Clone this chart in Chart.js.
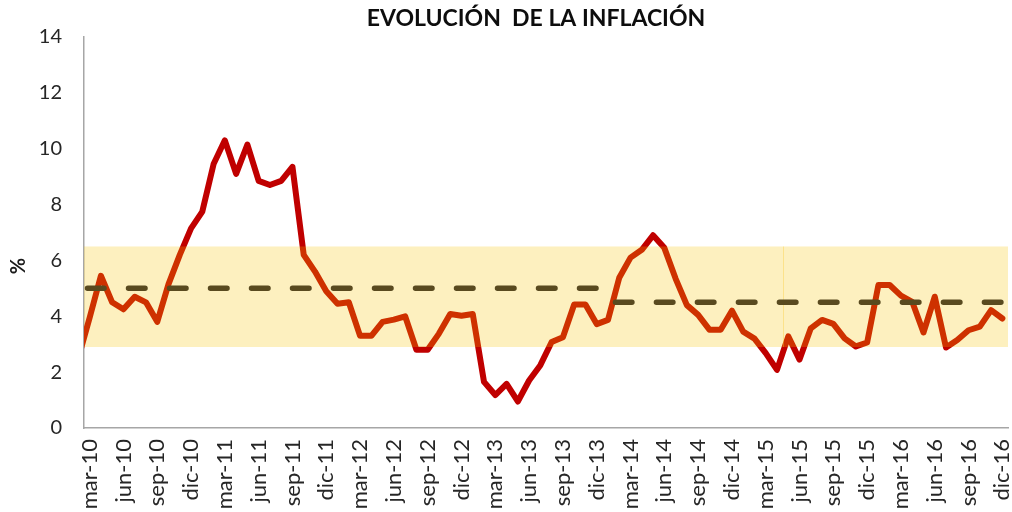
<!DOCTYPE html>
<html>
<head>
<meta charset="utf-8">
<script src="https://cdn.jsdelivr.net/npm/chart.js@4.4.1/dist/chart.umd.min.js"></script>
<style>
  html, body { margin: 0; padding: 0; background: #ffffff; }
  canvas { display: block; }
</style>
</head>
<body>
<canvas id="chart" width="1012" height="512"></canvas>
<script>
// ---------- DATA ----------
const months = [
  'feb-10','mar-10','abr-10','may-10','jun-10','jul-10','ago-10','sep-10','oct-10','nov-10','dic-10',
  'ene-11','feb-11','mar-11','abr-11','may-11','jun-11','jul-11','ago-11','sep-11','oct-11','nov-11','dic-11',
  'ene-12','feb-12','mar-12','abr-12','may-12','jun-12','jul-12','ago-12','sep-12','oct-12','nov-12','dic-12',
  'ene-13','feb-13','mar-13','abr-13','may-13','jun-13','jul-13','ago-13','sep-13','oct-13','nov-13','dic-13',
  'ene-14','feb-14','mar-14','abr-14','may-14','jun-14','jul-14','ago-14','sep-14','oct-14','nov-14','dic-14',
  'ene-15','feb-15','mar-15','abr-15','may-15','jun-15','jul-15','ago-15','sep-15','oct-15','nov-15','dic-15',
  'ene-16','feb-16','mar-16','abr-16','may-16','jun-16','jul-16','ago-16','sep-16','oct-16','nov-16','dic-16'
];

const tickLabels = [
  'mar-10','jun-10','sep-10','dic-10','mar-11','jun-11','sep-11','dic-11',
  'mar-12','jun-12','sep-12','dic-12','mar-13','jun-13','sep-13','dic-13',
  'mar-14','jun-14','sep-14','dic-14','mar-15','jun-15','sep-15','dic-15',
  'mar-16','jun-16','sep-16','dic-16'
];

const firstShownMonth = 'mar-10';

// Inflación interanual (%)
const inflation = [
  2.5, 3.95, 5.45, 4.5, 4.25, 4.7, 4.5, 3.8, 5.15, 6.2, 7.15,
  7.75, 9.45, 10.3, 9.1, 10.15, 8.85, 8.7, 8.85, 9.35, 6.2, 5.6, 4.9,
  4.45, 4.5, 3.3, 3.3, 3.8, 3.88, 4.0, 2.8, 2.8, 3.38, 4.08, 4.02,
  4.08, 1.65, 1.18, 1.58, 0.95, 1.7, 2.25, 3.08, 3.25, 4.42, 4.42, 3.72,
  3.87, 5.38, 6.1, 6.38, 6.9, 6.45, 5.35, 4.4, 4.05, 3.52, 3.52, 4.2,
  3.45, 3.2, 2.68, 2.08, 3.28, 2.45, 3.57, 3.87, 3.73, 3.21, 2.92, 3.06,
  5.12, 5.12, 4.74, 4.52, 3.42, 4.7, 2.88, 3.15, 3.5, 3.63, 4.22, 3.92
];

// Meta de inflación (%)
const target2010to2013 = [
  5, 5, 5, 5, 5, 5, 5, 5, 5, 5, 5,
  5, 5, 5, 5, 5, 5, 5, 5, 5, 5, 5, 5,
  5, 5, 5, 5, 5, 5, 5, 5, 5, 5, 5, 5,
  5, 5, 5, 5, 5, 5, 5, 5, 5, 5, 5, 5,
  null, null, null, null, null, null, null, null, null, null, null, null,
  null, null, null, null, null, null, null, null, null, null, null, null,
  null, null, null, null, null, null, null, null, null, null, null, null
];
const target2014to2016 = [
  null, null, null, null, null, null, null, null, null, null, null,
  null, null, null, null, null, null, null, null, null, null, null, null,
  null, null, null, null, null, null, null, null, null, null, null, null,
  null, null, null, null, null, null, null, null, null, null, null, null,
  4.5, 4.5, 4.5, 4.5, 4.5, 4.5, 4.5, 4.5, 4.5, 4.5, 4.5, 4.5,
  4.5, 4.5, 4.5, 4.5, 4.5, 4.5, 4.5, 4.5, 4.5, 4.5, 4.5, 4.5,
  4.5, 4.5, 4.5, 4.5, 4.5, 4.5, 4.5, 4.5, 4.5, 4.5, 4.5, 4.5
];

// Rango meta (%)
const bandLow = 2.9;
const bandHigh = 6.5;
const bandSeamBetween = ['abr-15', 'may-15'];

const yMin = 0, yMax = 14, yStep = 2;

const chartTitle = 'EVOLUCIÓN  DE LA INFLACIÓN';
const yAxisTitle = '%';

// ---------- PLUGINS ----------
const bandPlugin = {
  id: 'band',
  afterDatasetDraw(chart, args) {
    if (args.index !== 0) return;
    const { ctx, chartArea } = chart;
    const y = chart.scales.y, x = chart.scales.x;
    const top = y.getPixelForValue(bandHigh);
    const bottom = y.getPixelForValue(bandLow);
    ctx.save();
    ctx.fillStyle = 'rgba(247,194,0,0.25)';
    ctx.fillRect(chartArea.left, top, chartArea.right - chartArea.left, bottom - top);
    const i1 = months.indexOf(bandSeamBetween[0]);
    const i2 = months.indexOf(bandSeamBetween[1]);
    const sx = Math.round(x.getPixelForValue((i1 + i2) / 2)) + 0.5;
    ctx.strokeStyle = 'rgba(250,200,40,0.35)';
    ctx.lineWidth = 1;
    ctx.beginPath();
    ctx.moveTo(sx, top);
    ctx.lineTo(sx, bottom);
    ctx.stroke();
    ctx.restore();
  }
};

const textPlugin = {
  id: 'texts',
  afterDraw(chart) {
    const { ctx } = chart;
    ctx.save();
    ctx.fillStyle = '#0d0d0d';
    ctx.font = 'bold 23px Lato';
    ctx.textAlign = 'center';
    ctx.textBaseline = 'middle';
    ctx.fillText(chartTitle, 536, 19);
    ctx.translate(19, 266);
    ctx.rotate(-Math.PI / 2);
    ctx.font = 'bold 20px Lato';
    ctx.fillStyle = '#1a1a1a';
    ctx.fillText(yAxisTitle, 0, 0);
    ctx.restore();
  }
};

// ---------- CHART ----------
const lineDefaults = { pointRadius: 0, pointHoverRadius: 0, tension: 0, clip: 0, spanGaps: false };

new Chart(document.getElementById('chart'), {
  type: 'line',
  data: {
    labels: months,
    datasets: [
      Object.assign({
        label: 'Inflación',
        data: inflation,
        borderColor: '#c00000',
        borderWidth: 6,
        borderJoinStyle: 'round',
        borderCapStyle: 'round',
        order: 2
      }, lineDefaults),
      Object.assign({
        label: 'Meta 2010-2013',
        data: target2010to2013,
        borderColor: '#594a1f',
        borderWidth: 5.5,
        borderDash: [16.5, 24.5],
        borderDashOffset: 31.85,
        borderCapStyle: 'round',
        order: 1
      }, lineDefaults),
      Object.assign({
        label: 'Meta 2014-2016',
        data: target2014to2016,
        borderColor: '#594a1f',
        borderWidth: 5.5,
        borderDash: [16.5, 24.5],
        borderDashOffset: 33.55,
        borderCapStyle: 'round',
        order: 1
      }, lineDefaults)
    ]
  },
  options: {
    responsive: false,
    animation: false,
    events: [],
    layout: { padding: { top: 37, right: 4, bottom: 0, left: 0 } },
    plugins: { legend: { display: false }, tooltip: { enabled: false }, title: { display: false } },
    scales: {
      x: {
        type: 'category',
        min: firstShownMonth,
        offset: true,
        grid: { display: false, drawTicks: false },
        border: { display: true, color: '#a6a6a6', width: 1.5 },
        ticks: {
          autoSkip: false,
          maxRotation: 90,
          minRotation: 90,
          padding: 11,
          color: '#262626',
          font: { family: 'Lato', size: 22 },
          callback(value) {
            const lab = this.getLabelForValue(value);
            return tickLabels.includes(lab) ? lab : null;
          }
        },
        afterFit(s) { s.height = 84; s.paddingLeft = 0; s.paddingRight = 0; }
      },
      y: {
        min: yMin,
        max: yMax,
        grid: { display: false, drawTicks: false },
        border: { display: true, color: '#a6a6a6', width: 1.5 },
        ticks: {
          stepSize: yStep,
          padding: 22,
          color: '#262626',
          font: { family: 'Lato', size: 20 }
        },
        afterFit(s) { s.width = 84; s.paddingTop = 0; s.paddingBottom = 0; }
      }
    }
  },
  plugins: [bandPlugin, textPlugin]
});
</script>
</body>
</html>
